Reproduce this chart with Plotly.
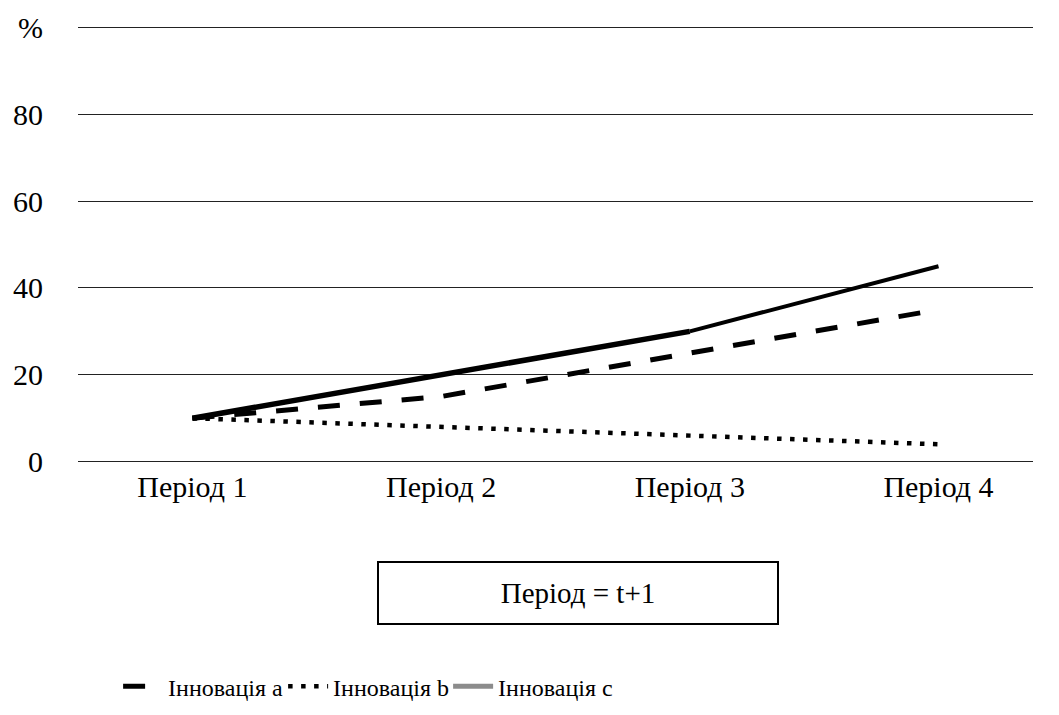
import plotly.graph_objects as go

categories = ["Період 1", "Період 2", "Період 3", "Період 4"]
innov_a = [10, 15, 25, 35]
innov_b = [10, 8, 6, 4]
innov_c = [10, 20, 30, 45]
y_tickvals = [0, 20, 40, 60, 80, 100]
y_ticktext = ["0", "20", "40", "60", "80", "%"]
box_text = "Період = t+1"
names = ["Інновація a", "Інновація b", "Інновація c"]

FONT = '"Liberation Serif", "Times New Roman", Times, serif'

fig = go.Figure()
fig.add_trace(go.Scatter(x=categories, y=innov_a, mode="lines", name=names[0],
                         line=dict(color="black", width=5, dash="22px,20px")))
fig.add_trace(go.Scatter(x=categories, y=innov_b, mode="lines", name=names[1],
                         line=dict(color="black", width=4.5, dash="4.5px,8.5px")))
# series c drawn in black on the plot, grey in the legend
fig.add_trace(go.Scatter(x=categories[:3], y=innov_c[:3], mode="lines", name=names[2],
                         showlegend=False, line=dict(color="black", width=5.5)))
fig.add_trace(go.Scatter(x=categories[2:], y=innov_c[2:], mode="lines", name=names[2],
                         showlegend=False, line=dict(color="black", width=4)))
fig.add_trace(go.Scatter(x=[None], y=[None], mode="lines", name=names[2],
                         line=dict(color="#8c8c8c", width=5)))

fig.add_annotation(text=box_text, xref="paper", yref="paper", x=0.5236, y=-0.2877,
                   xanchor="center", yanchor="middle", showarrow=False,
                   width=396, height=58, bordercolor="black", borderwidth=2,
                   font=dict(family=FONT, size=29, color="black"))

fig.update_layout(
    width=1043, height=699,
    margin=dict(l=70, r=18, t=15, b=241, autoexpand=False),
    paper_bgcolor="white", plot_bgcolor="white",
    font=dict(family=FONT, size=24, color="black"),
    showlegend=True,
    legend=dict(orientation="h", x=0.042, xref="paper", y=0.029, yref="container",
                xanchor="left", yanchor="middle",
                font=dict(family=FONT, size=24, color="black"),
                entrywidth=110, itemwidth=40, bgcolor="rgba(0,0,0,0)"),
    xaxis=dict(type="category", range=[-0.46, 3.38], showgrid=False, zeroline=False,
               showline=False, ticks="", automargin=False,
               tickfont=dict(family=FONT, size=30)),
    yaxis=dict(range=[-1, 101], tickvals=y_tickvals, ticktext=y_ticktext,
               showgrid=True, gridcolor="#222", gridwidth=1.3, zeroline=False,
               showline=False, ticks="", ticklabelstandoff=34, automargin=False,
               tickfont=dict(family=FONT, size=30)),
)

fig.write_html("out.html")
